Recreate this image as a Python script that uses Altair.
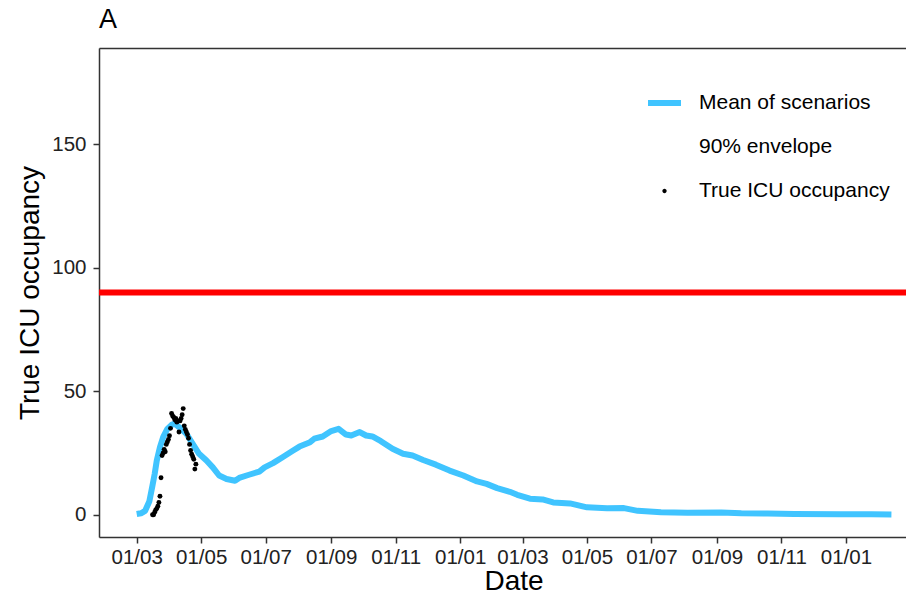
import altair as alt
import pandas as pd

FONT = "Liberation Sans"

# ---- Mean of scenarios ----
mean_dates = ["2020-03-01", "2020-03-05", "2020-03-09", "2020-03-13", "2020-03-16", "2020-03-18",
              "2020-03-20", "2020-03-23", "2020-03-26", "2020-03-30", "2020-04-03",
              "2020-04-06", "2020-04-10", "2020-04-17", "2020-04-23", "2020-04-29", "2020-05-06",
              "2020-05-12", "2020-05-18", "2020-05-25", "2020-06-02", "2020-06-06", "2020-06-16",
              "2020-06-25", "2020-06-30", "2020-07-08", "2020-07-17", "2020-07-27", "2020-08-02",
              "2020-08-12", "2020-08-16", "2020-08-24", "2020-09-01", "2020-09-08", "2020-09-15",
              "2020-09-20", "2020-09-28", "2020-10-04", "2020-10-10", "2020-10-18", "2020-10-29",
              "2020-11-08", "2020-11-17", "2020-11-27", "2020-12-09", "2020-12-22", "2021-01-04",
              "2021-01-17", "2021-01-26", "2021-02-05", "2021-02-17", "2021-02-24", "2021-03-08",
              "2021-03-20", "2021-03-30", "2021-04-15", "2021-05-01", "2021-05-20", "2021-06-05",
              "2021-06-18", "2021-07-10", "2021-08-04", "2021-09-05", "2021-09-24", "2021-10-19",
              "2021-11-13", "2021-12-27", "2022-01-25", "2022-02-13"]
mean_values = [0.3, 0.6, 1.6, 5.5, 12, 16.5, 22, 27.4, 31.4, 34.8, 36.4,
               36.9, 35.5, 32.8, 28.7, 24.7, 22, 19.2, 15.9, 14.5, 13.8, 14.9, 16.3,
               17.5, 19.2, 20.9, 23.3, 26, 27.6, 29.4, 30.8, 31.7, 33.9, 34.8, 32.5,
               32.1, 33.5, 32.1, 31.7, 29.8, 26.7, 24.7, 24, 22.2, 20.3, 17.9, 15.9,
               13.5, 12.5, 10.8, 9.3, 8.1, 6.5, 6.2, 5.0, 4.6, 3.0, 2.6, 2.7,
               1.6, 1.0, 0.8, 0.9, 0.6, 0.5, 0.3, 0.2, 0.2, 0.1]

# ---- True ICU occupancy (daily observations) ----
obs_dates = ["2020-03-16", "2020-03-17", "2020-03-18", "2020-03-19", "2020-03-20", "2020-03-21",
             "2020-03-22", "2020-03-23", "2020-03-24", "2020-03-25", "2020-03-26", "2020-03-27",
             "2020-03-28", "2020-03-29", "2020-03-30", "2020-03-31", "2020-04-01", "2020-04-02",
             "2020-04-03", "2020-04-04", "2020-04-05", "2020-04-06", "2020-04-07", "2020-04-08",
             "2020-04-09", "2020-04-10", "2020-04-11", "2020-04-12", "2020-04-13", "2020-04-14",
             "2020-04-15", "2020-04-16", "2020-04-17", "2020-04-18", "2020-04-19", "2020-04-20",
             "2020-04-21", "2020-04-22", "2020-04-23", "2020-04-24", "2020-04-25", "2020-04-26"]
obs_values = [0, 0, 1, 2, 2.5, 3.5, 5, 7.5, 15, 24, 25, 26.5,
              25.5, 28.5, 29.5, 30.5, 32, 35, 41, 40, 39.5, 38.5, 39, 37.5,
              38, 33.5, 38, 39, 40.5, 43, 36, 34.5, 33.5, 32.5, 31, 28.5,
              26, 24.5, 23.5, 22.5, 18.5, 20.5]

# ---- ICU capacity threshold ----
threshold = [90]

# ---- Legend ----
legend_labels = ["Mean of scenarios", "90% envelope", "True ICU occupancy"]
legend_colors = ["#40C4FF", "transparent", "#000000"]
legend_shapes = ["M-1,-0.18L1,-0.18L1,0.18L-1,0.18Z",
                 "M-1,-0.18L1,-0.18L1,0.18L-1,0.18Z",
                 "M-0.13,0A0.13,0.13,0,1,0,0.13,0A0.13,0.13,0,1,0,-0.13,0Z"]

# ---- Axis ticks ----
x_tick_months = [(2020, 3), (2020, 5), (2020, 7), (2020, 9), (2020, 11), (2021, 1),
                 (2021, 3), (2021, 5), (2021, 7), (2021, 9), (2021, 11), (2022, 1)]
y_ticks = [0, 50, 100, 150]

mean_df = pd.DataFrame({"date": [d + "T00:00:00" for d in mean_dates], "value": mean_values})
obs_df = pd.DataFrame({"date": [d + "T00:00:00" for d in obs_dates], "value": obs_values})
thr_df = pd.DataFrame({"value": threshold})
legend_df = pd.DataFrame({"series": legend_labels})

x_scale = alt.Scale(domain=[alt.DateTime(year=2020, month=1, date=25, hours=8),
                            alt.DateTime(year=2022, month=2, date=26, hours=19)], nice=False)
y_scale = alt.Scale(domain=[-9, 189], nice=False, zero=False)

x_axis = alt.Axis(
    values=[alt.DateTime(year=y, month=m, date=1) for y, m in x_tick_months],
    format="%d/%m", formatType="time",
    title="Date", titleFontSize=28, titleFontWeight="normal", titleColor="#000000",
    titleX=414.5, titleY=52, titleBaseline="alphabetic",
    labelFontSize=20.5, labelColor="#222222", labelPadding=4, labelFlush=False, labelOverlap=False,
    tickSize=6, tickColor="#333333", tickWidth=1.5,
    domainColor="#333333", domainWidth=1.5, grid=False,
)
x_axis_top = alt.Axis(orient="top", labels=False, ticks=False, title=None,
                      domainColor="#333333", domainWidth=1.5, grid=False,
                      minExtent=0, maxExtent=0, titlePadding=0, offset=0)
y_axis = alt.Axis(
    values=y_ticks, title="True ICU occupancy", titleFontSize=28, titleFontWeight="normal",
    titleColor="#000000", titleX=-61, titleY=244.5, titleBaseline="alphabetic",
    labelFontSize=20.5, labelColor="#222222", labelPadding=7,
    tickSize=6, tickColor="#333333", tickWidth=1.5,
    domainColor="#333333", domainWidth=1.5, grid=False,
)

line = alt.Chart(mean_df).mark_line(color="#40C4FF", strokeWidth=6, strokeJoin="round").encode(
    x=alt.X("date:T", scale=x_scale, axis=x_axis),
    y=alt.Y("value:Q", scale=y_scale, axis=y_axis),
)

points = alt.Chart(obs_df).mark_circle(color="#000000", size=24, opacity=1).encode(
    x=alt.X("date:T", scale=x_scale, axis=x_axis_top),
    y=alt.Y("value:Q", scale=y_scale),
)

rule = alt.Chart(thr_df).mark_rule(color="#FF0000", strokeWidth=6).encode(
    y=alt.Y("value:Q", scale=y_scale),
)

leg = alt.Legend(
    title=None, orient="none", legendX=549, legendY=38.5, padding=0,
    labelFontSize=21, labelFont=FONT, labelColor="#000000", labelOffset=18, labelLimit=400,
    rowPadding=17, symbolSize=1089, symbolStrokeWidth=0,
)
legend_layer = alt.Chart(legend_df).mark_point(filled=True, opacity=1).encode(
    color=alt.Color("series:N", scale=alt.Scale(domain=legend_labels, range=legend_colors), legend=leg),
    shape=alt.Shape("series:N", scale=alt.Scale(domain=legend_labels, range=legend_shapes), legend=leg),
).transform_filter("false")

chart = alt.layer(rule, line, points, legend_layer).resolve_axis(x="independent").properties(
    width=807, height=489,
    padding={"left": 91, "top": 40, "right": 0, "bottom": 54},
    autosize=alt.AutoSizeParams(type="none"),
    title=alt.TitleParams("A", anchor="start", frame="group", fontSize=27, fontWeight="normal",
                          font=FONT, color="#000000", baseline="top", offset=14),
).configure_view(stroke=None).configure_axis(labelFont=FONT, titleFont=FONT).configure(
    background="white"
)

chart.save("out.html", embed_options={"renderer": "svg", "actions": False})
